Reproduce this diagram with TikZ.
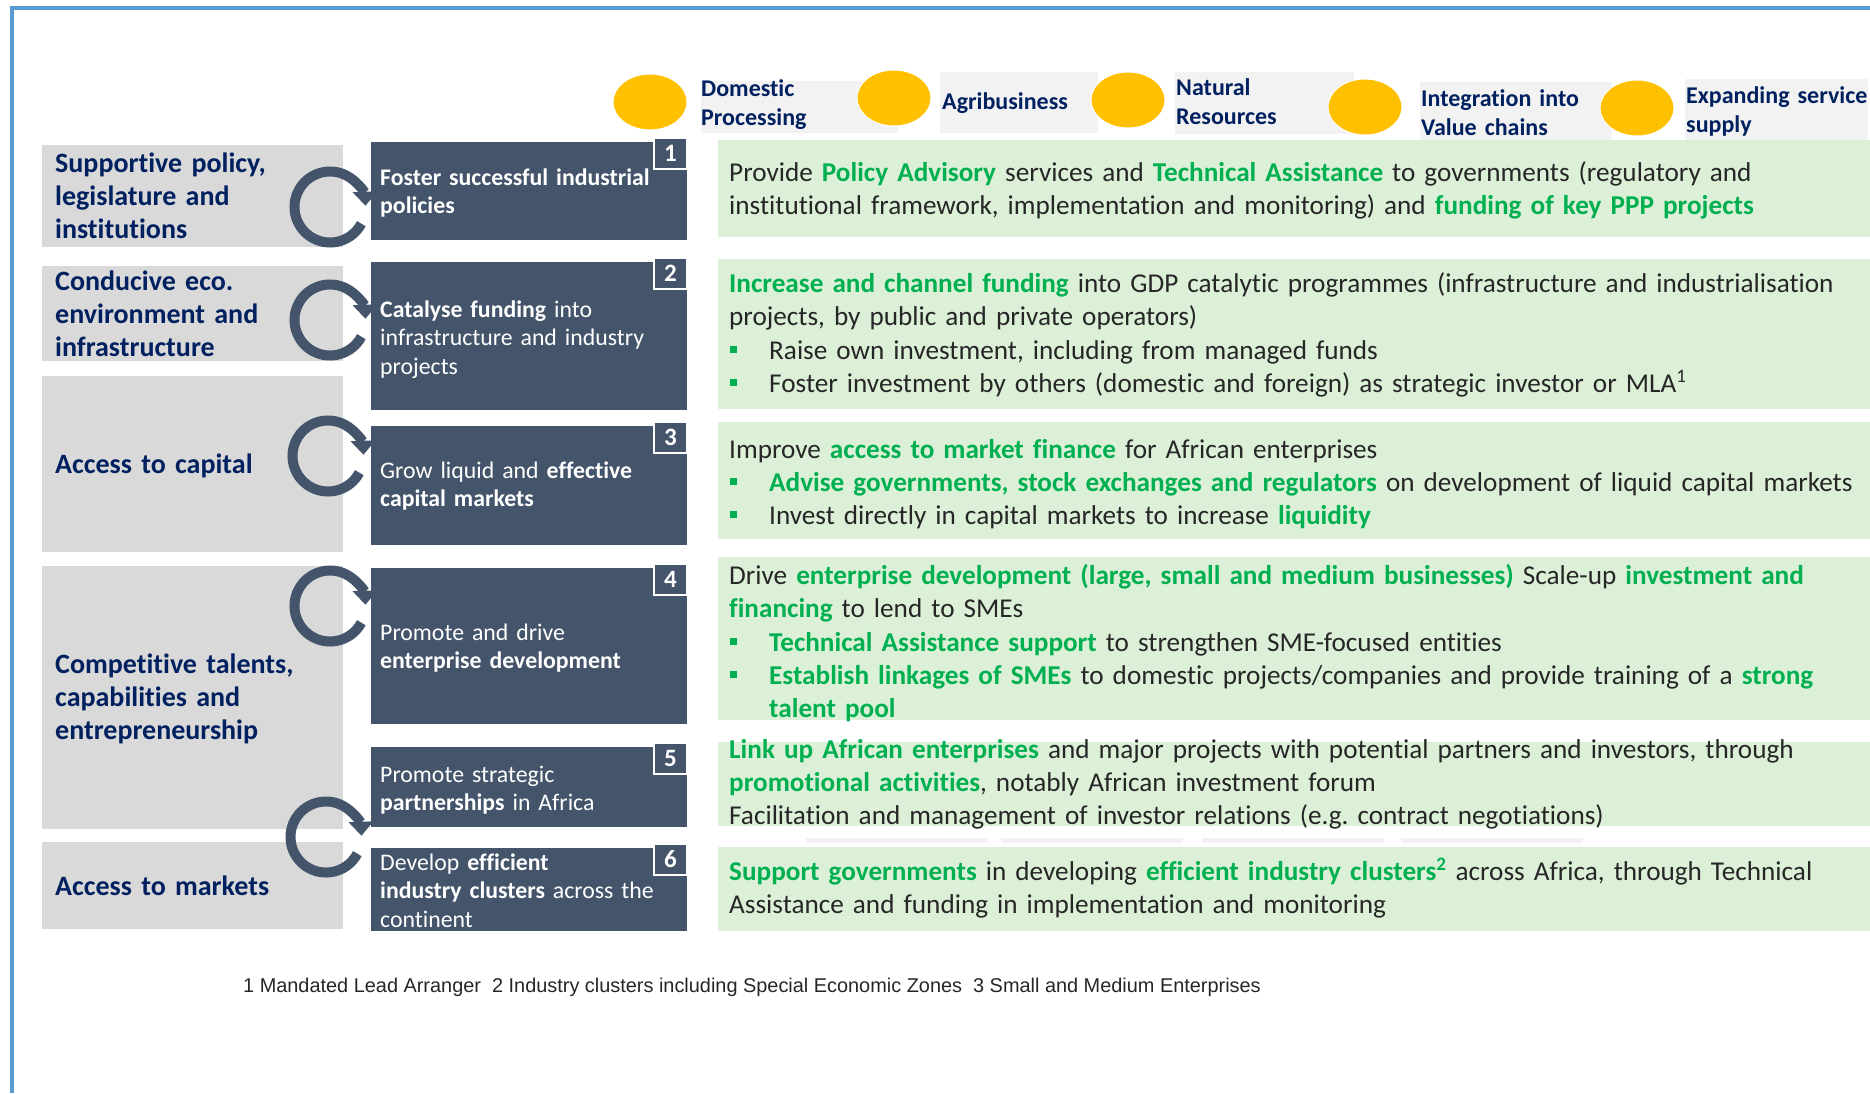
\documentclass[tikz,border=0pt]{standalone}
\usepackage{fontspec}
\setmainfont[Ligatures=NoCommon]{Carlito}
\newfontfamily\footfont{Liberation Sans}
\usetikzlibrary{arrows.meta,shapes.geometric}
\frenchspacing

\definecolor{navy}{HTML}{002060}
\definecolor{hlgreen}{HTML}{00B050}
\definecolor{slate}{HTML}{44546A}
\definecolor{panelgray}{HTML}{D9D9D9}
\definecolor{tagbg}{HTML}{F2F2F2}
\definecolor{mint}{HTML}{DCF0D8}
\definecolor{ink}{HTML}{262626}
\definecolor{amber}{HTML}{FFC000}
\definecolor{framecol}{HTML}{5B9BD5}

\newcommand{\grn}[1]{\textbf{\color{hlgreen}#1}}

\begin{document}
\begin{tikzpicture}[x=1pt,y=-1pt,
  box/.style={draw=none, anchor=north west, inner sep=0pt},
  lpanel/.style={box, fill=panelgray},
  dpanel/.style={box, fill=slate},
  gpanel/.style={box, fill=mint},
  tagpanel/.style={box, fill=tagbg},
  tab/.style={fill=slate, draw=white, line width=2pt, text=white,
    font=\bfseries\fontsize{25}{25}\selectfont, minimum width=33pt,
    minimum height=31pt, inner sep=0pt, anchor=north east},
  dot/.style={ellipse, fill=amber, draw=white, line width=1pt,
    minimum width=74pt, minimum height=56pt, inner sep=0pt},
  ttext/.style={anchor=base west, inner sep=0pt, text width=200pt, align=left,
    text=navy, font=\bfseries\fontsize{24}{29}\selectfont},
  ltext/.style={anchor=base west, inner sep=0pt, text width=290pt, align=left,
    text=navy, font=\bfseries\fontsize{28}{33.3}\selectfont},
  dtext/.style={anchor=base west, inner sep=0pt, text width=300pt, align=left,
    text=white, font=\fontsize{23.8}{28.7}\selectfont},
  body/.style={anchor=base west, inner sep=0pt, text width=1140pt, align=left,
    text=ink, font=\fontsize{27.2}{33.4}\selectfont},
  bul/.style={fill=hlgreen, draw=none, minimum size=7pt, inner sep=0pt},
  ring/.style={draw=slate, line width=10pt, -{Triangle[length=14pt,width=24pt]}}
]
\useasboundingbox (0,0) rectangle (1870,1093);

% outer frame
\draw[framecol, line width=4pt] (11.5,1093) -- (11.5,8) -- (1870,8);

% sector tags along the top
\node[tagpanel, minimum width=197pt, minimum height=52pt] (tb1) at (701,81) {};
\node[tagpanel, minimum width=158pt, minimum height=61pt] (tb2) at (940,72) {};
\node[tagpanel, minimum width=179pt, minimum height=62pt] (tb3) at (1175,72) {};
\node[tagpanel, minimum width=192pt, minimum height=62pt] (tb4) at (1420,82) {};
\node[tagpanel, minimum width=183pt, minimum height=62pt] (tb5) at (1685,79) {};
\node[dot] (c1) at (650,102) {};
\node[dot] (c2) at (894,98) {};
\node[dot] (c3) at (1128,100) {};
\node[dot] (c4) at (1365,107) {};
\node[dot] (c5) at (1637,108) {};
\node[ttext] (t1) at (701,96) {Domestic\\Processing};
\node[ttext] (t2) at (942,109) {Agribusiness};
\node[ttext] (t3) at (1176,95) {Natural\\Resources};
\node[ttext] (t4) at (1421,106) {Integration into\\Value chains};
\node[ttext] (t5) at (1686,103) {Expanding service\\supply};

% left column: enabling conditions
\node[lpanel, minimum width=301pt, minimum height=102pt] (l1) at (42,145) {};
\node[lpanel, minimum width=301pt, minimum height=95pt] (l2) at (42,266) {};
\node[lpanel, minimum width=301pt, minimum height=176pt] (l3) at (42,376) {};
\node[lpanel, minimum width=301pt, minimum height=263pt] (l4) at (42,566) {};
\node[lpanel, minimum width=301pt, minimum height=87pt] (l5) at (42,842) {};
\node[ltext] (l1t) at (55,172) {Supportive policy,\\legislature and\\institutions};
\node[ltext] (l2t) at (55,290) {Conducive eco.\\environment and\\infrastructure};
\node[ltext] (l3t) at (55,473) {Access to capital};
\node[ltext] (l4t) at (55,673) {Competitive talents,\\capabilities and\\entrepreneurship};
\node[ltext] (l5t) at (55,895) {Access to markets};

% cycle arrows
\coordinate (r1) at (330,207);
\coordinate (r2) at (330,320);
\coordinate (r3) at (328,456);
\coordinate (r4) at (330,606);
\coordinate (r5) at (326,837);
\foreach \r in {r1,r2,r3,r4,r5}
  \draw[ring] (\r) ++(28:35.5) arc[start angle=28, end angle=358, radius=35.5];

% middle column: levers
\node[dpanel, minimum width=316pt, minimum height=98pt] (d1) at (371,142) {};
\node[dpanel, minimum width=316pt, minimum height=148pt] (d2) at (371,262) {};
\node[dpanel, minimum width=316pt, minimum height=119pt] (d3) at (371,426) {};
\node[dpanel, minimum width=316pt, minimum height=156pt] (d4) at (371,568) {};
\node[dpanel, minimum width=316pt, minimum height=80pt] (d5) at (371,747) {};
\node[dpanel, minimum width=316pt, minimum height=83pt] (d6) at (371,848) {};
\node[tab] (n1) at (688,137) {1};
\node[tab] (n2) at (688,257) {2};
\node[tab] (n3) at (688,421) {3};
\node[tab] (n4) at (688,563) {4};
\node[tab] (n5) at (688,742) {5};
\node[tab] (n6) at (688,843) {6};
\node[dtext] (d1t) at (380,185) {\textbf{Foster successful industrial\\policies}};
\node[dtext] (d2t) at (380,317) {\textbf{Catalyse funding} into\\infrastructure and industry\\projects};
\node[dtext] (d3t) at (380,478) {Grow liquid and \textbf{effective}\\\textbf{capital markets}};
\node[dtext] (d4t) at (380,640) {Promote and drive\\\textbf{enterprise development}};
\node[dtext] (d5t) at (380,782) {Promote strategic\\\textbf{partnerships} in Africa};
\node[dtext] (d6t) at (380,870) {Develop \textbf{efficient}\\\textbf{industry clusters} across the\\continent};

% right column: activities
\node[gpanel, minimum width=1152pt, minimum height=97pt] (g1) at (718,140) {};
\node[gpanel, minimum width=1152pt, minimum height=150pt] (g2) at (718,259) {};
\node[gpanel, minimum width=1152pt, minimum height=117pt] (g3) at (718,422) {};
\node[gpanel, minimum width=1152pt, minimum height=163pt] (g4) at (718,557) {};
\node[gpanel, minimum width=1152pt, minimum height=84pt] (g5) at (718,742) {};
\node[gpanel, minimum width=1152pt, minimum height=84pt] (g6) at (718,847) {};
\foreach \xa/\xb in {806/988, 1001/1183, 1202/1384, 1401/1583}
  \fill[tagbg] (\xa,838) rectangle (\xb,843);

\node[body] (g1t) at (729,181) {Provide \grn{Policy Advisory} services and \grn{Technical Assistance} to governments (regulatory and\\institutional framework, implementation and monitoring) and \grn{funding of key PPP projects}};

\node[body] (g2t) at (729,292) {\grn{Increase and channel funding} into GDP catalytic programmes (infrastructure and industrialisation\\projects, by public and private operators)};
\node[bul] (g2a) at (733.5,349.5) {};
\node[body] (g2at) at (769,359) {Raise own investment, including from managed funds};
\node[bul] (g2b) at (733.5,382.5) {};
\node[body] (g2bt) at (769,392) {Foster investment by others (domestic and foreign) as strategic investor or MLA\textsuperscript{1}};

\node[body] (g3t) at (729,458) {Improve \grn{access to market finance} for African enterprises};
\node[bul] (g3a) at (733.5,481.5) {};
\node[body] (g3at) at (769,491) {\grn{Advise governments, stock exchanges and regulators} on development of liquid capital markets};
\node[bul] (g3b) at (733.5,514.5) {};
\node[body] (g3bt) at (769,524) {Invest directly in capital markets to increase \grn{liquidity}};

\node[body] (g4t) at (729,584) {Drive \grn{enterprise development (large, small and medium businesses)} Scale-up \grn{investment and}\\\grn{financing} to lend to SMEs};
\node[bul] (g4a) at (733.5,641.5) {};
\node[body] (g4at) at (769,651) {\grn{Technical Assistance support} to strengthen SME-focused entities};
\node[bul] (g4b) at (733.5,674.5) {};
\node[body] (g4bt) at (769,684) {\grn{Establish linkages of SMEs} to domestic projects/companies and provide training of a \grn{strong}\\\grn{talent pool}};

\node[body] (g5t) at (729,758) {\grn{Link up African enterprises} and major projects with potential partners and investors, through\\\grn{promotional activities}, notably African investment forum\\Facilitation and management of investor relations (e.g. contract negotiations)};

\node[body] (g6t) at (729,880) {\grn{Support governments} in developing \grn{efficient industry clusters\textsuperscript{2}} across Africa, through Technical\\Assistance and funding in implementation and monitoring};

% footnotes
\node[anchor=base west, inner sep=0pt, text=ink, font=\footfont\fontsize{19.9}{19.9}\selectfont] (fn) at (243,992)
  {1 Mandated Lead Arranger\ \ 2 Industry clusters including Special Economic Zones\ \ 3 Small and Medium Enterprises};
\end{tikzpicture}
\end{document}
